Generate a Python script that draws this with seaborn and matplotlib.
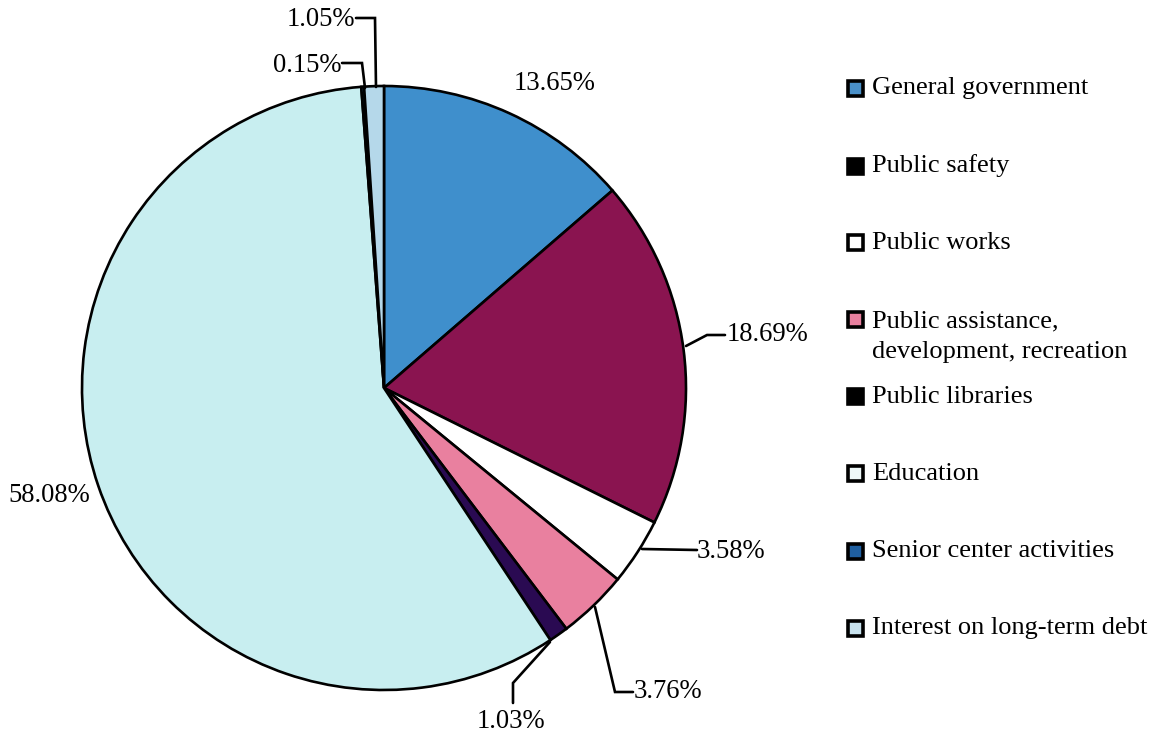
import matplotlib
matplotlib.use("Agg")
import matplotlib.pyplot as plt
from matplotlib.patches import Rectangle
import seaborn as sns

sns.set_theme(style="white")
plt.rcParams['font.family'] = ['Liberation Serif', 'DejaVu Serif']

categories = ["General government", "Public safety", "Public works",
              "Public assistance,\ndevelopment, recreation", "Public libraries",
              "Education", "Senior center activities", "Interest on long-term debt"]
values = [13.65, 18.69, 3.58, 3.76, 1.03, 58.08, 0.15, 1.05]
pct_labels = ["13.65%", "18.69%", "3.58%", "3.76%", "1.03%", "58.08%", "0.15%", "1.05%"]
slice_colors = ["#3f8fcc", "#8a1450", "#ffffff", "#e9809f", "#2a0a52",
                "#c8eef0", "#1f5c9e", "#b5d8ea"]
legend_colors = ["#4a90c8", "#000000", "#ffffff", "#e9809f", "#000000",
                 "#eef8f8", "#1f5fa0", "#c8e2ee"]

W, H = 1163, 739
CX, CY, R = 384, 388, 302

fig = plt.figure(figsize=(W / 100, H / 100), dpi=100)
ax = fig.add_axes([0, 0, 1, 1])

def P(x, y):
    return ((x - CX) / R, (CY - y) / R)

wedges, _ = ax.pie(values, colors=slice_colors, startangle=90, counterclock=False,
                   radius=1.0, wedgeprops=dict(edgecolor="black", linewidth=1.9))
ax.set_xlim((0 - CX) / R, (W - CX) / R)
ax.set_ylim((CY - H) / R, CY / R)
ax.set_aspect("auto")
ax.axis("off")

fs = 19.2
# label placement: (text position px, ha, leader polyline px)
placements = [
    ((514, 83), "left", None),
    ((727, 335), "left", [(686, 346), (707, 335), (725, 335)]),
    ((697, 551), "left", [(642, 549), (697, 550)]),
    ((634, 692), "left", [(595, 607), (615, 692), (633, 692)]),
    ((511, 722), "center", [(550, 642), (513, 683), (513, 703)]),
    ((8, 496), "left", None),
    ((341, 65), "right", [(342, 63), (362, 63), (365, 88)]),
    ((355, 19), "right", [(356, 18), (375, 18), (376, 87)]),
]
for lab, (tpos, ha, line) in zip(pct_labels, placements):
    tx, ty = P(*tpos)
    ax.text(tx, ty, lab, ha=ha, va="center", fontsize=fs, color="black")
    if line:
        xs, ys = zip(*[P(*p) for p in line])
        ax.plot(xs, ys, color="black", lw=1.9, solid_joinstyle="miter")

# legend
rows_y = [88, 166, 243, 320, 397, 474, 551, 628]
for cat, col, ry in zip(categories, legend_colors, rows_y):
    s = 15 / R
    x0, y0 = P(848, ry + 7.5)
    ax.add_patch(Rectangle((x0, y0), s, s, facecolor=col, edgecolor="black", lw=2.6))
    if "\n" in cat:
        tx, ty = P(872, ry - 10)
        ax.text(tx, ty, cat, ha="left", va="top", fontsize=19, color="black",
                linespacing=1.55)
    else:
        tx, ty = P(872, ry)
        ax.text(tx, ty, cat, ha="left", va="center", fontsize=19, color="black")

fig.savefig("out.png", dpi=100)
